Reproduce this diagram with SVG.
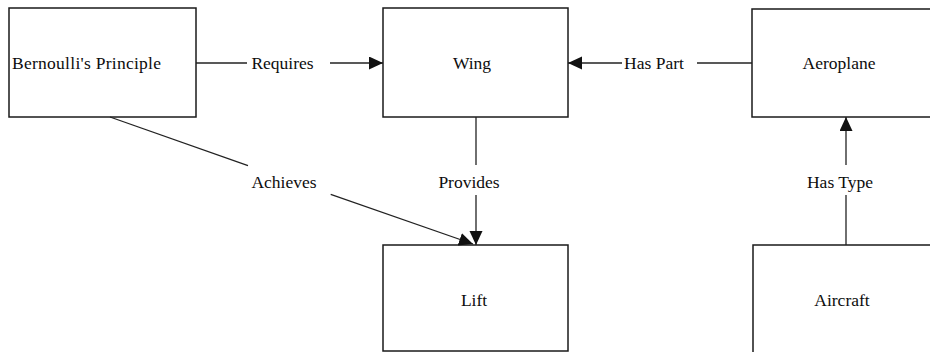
<svg xmlns="http://www.w3.org/2000/svg" width="930" height="352" viewBox="0 0 930 352">
  <style>
    .box { fill: #ffffff; stroke: #1a1a1a; stroke-width: 1.5; }
    .lbl { font-family: "Liberation Serif", "Times New Roman", serif; font-size: 17.5px; fill: #0d0d0d; }
    .mid { text-anchor: middle; }
    .edge { fill: none; stroke: #222222; stroke-width: 1.3; }
  </style>
  <defs>
    <marker id="arrow" markerUnits="userSpaceOnUse" markerWidth="16" markerHeight="14" refX="14" refY="6.5" orient="auto">
      <path d="M0,0 L14,6.5 L0,13 Z" fill="#111111"/>
    </marker>
  </defs>
  <rect width="930" height="352" fill="#ffffff"/>

  <g id="node-bernoulli">
    <rect class="box" x="9" y="8" width="187" height="109"/>
    <text class="lbl" x="12" y="69" textLength="149" lengthAdjust="spacing">Bernoulli's Principle</text>
  </g>
  <g id="node-wing">
    <rect class="box" x="383" y="8" width="185" height="109"/>
    <text class="lbl mid" x="472" y="69">Wing</text>
  </g>
  <g id="node-aeroplane">
    <rect class="box" x="752" y="9" width="190" height="108"/>
    <text class="lbl mid" x="839" y="69">Aeroplane</text>
  </g>
  <g id="node-lift">
    <rect class="box" x="383" y="245" width="185" height="106"/>
    <text class="lbl mid" x="474" y="306">Lift</text>
  </g>
  <g id="node-aircraft">
    <rect class="box" x="753" y="245" width="190" height="112"/>
    <text class="lbl mid" x="842" y="306">Aircraft</text>
  </g>

  <g id="connectors">
    <!-- Bernoulli's Principle requires Wing -->
    <path class="edge" d="M196,63 H247"/>
    <text class="lbl mid" x="282.5" y="69">Requires</text>
    <path class="edge" d="M330,63 H383" marker-end="url(#arrow)"/>

    <!-- Aeroplane has part Wing -->
    <path class="edge" d="M752,63 H697"/>
    <text class="lbl mid" x="654" y="69">Has Part</text>
    <path class="edge" d="M622,63 H568" marker-end="url(#arrow)"/>

    <!-- Wing provides Lift -->
    <path class="edge" d="M476,117 V165"/>
    <text class="lbl mid" x="469" y="188">Provides</text>
    <path class="edge" d="M476,195 V245" marker-end="url(#arrow)"/>

    <!-- Aircraft has type Aeroplane -->
    <path class="edge" d="M846,245 V195"/>
    <text class="lbl mid" x="840" y="188">Has Type</text>
    <path class="edge" d="M846,165 V117" marker-end="url(#arrow)"/>

    <!-- Bernoulli's Principle achieves Lift -->
    <path class="edge" d="M110,117 L248,165.7"/>
    <text class="lbl mid" x="284" y="188">Achieves</text>
    <path class="edge" d="M330.7,194.3 L473,244" marker-end="url(#arrow)"/>
  </g>
</svg>
